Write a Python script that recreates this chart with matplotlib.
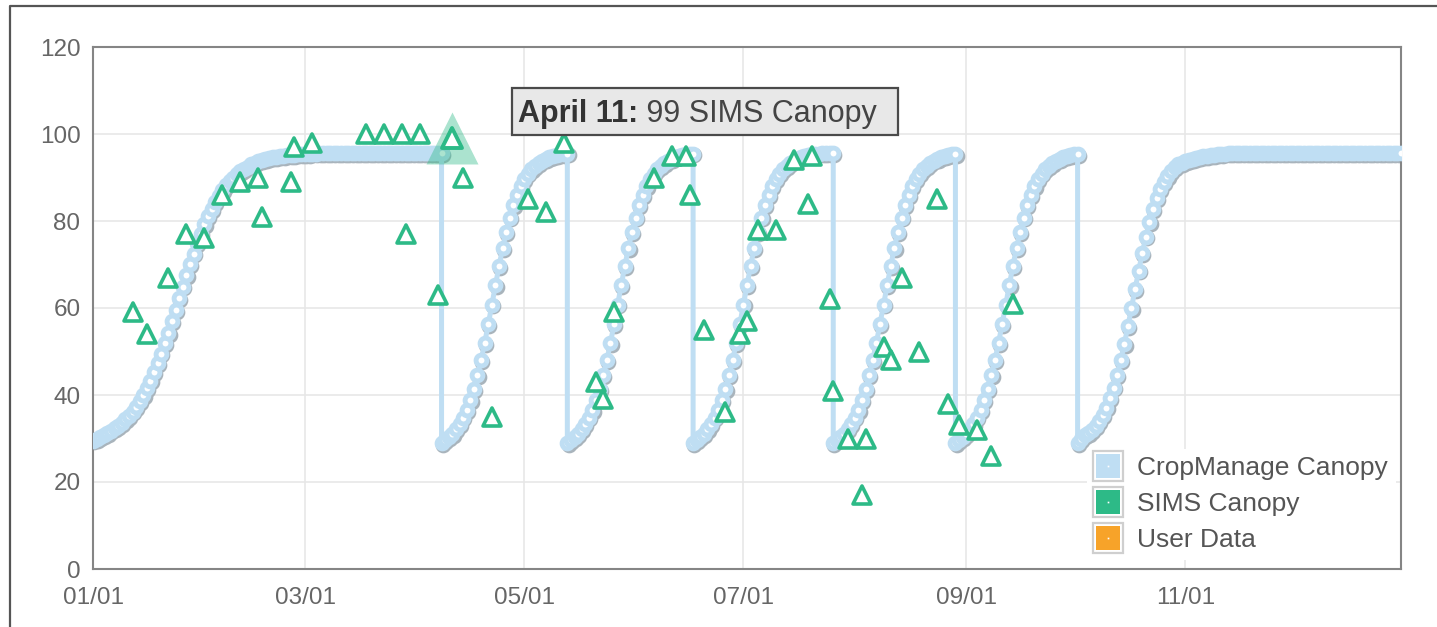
import matplotlib
matplotlib.use('Agg')
import matplotlib.pyplot as plt
import matplotlib.dates as mdates
from matplotlib.lines import Line2D
from matplotlib.markers import MarkerStyle
from matplotlib.patches import Rectangle
from matplotlib.transforms import offset_copy
import pandas as pd

plt.rcParams['font.family'] = ['Liberation Sans', 'DejaVu Sans']

YEAR = '2019'

# CropManage canopy (% cover), one daily growth curve per planting
cycle_dates = ['01-01', '04-08', '05-13', '06-17', '07-26', '08-29', '10-02', '12-31']

first_cycle = [29.5, 29.9, 30.3, 30.8, 31.3, 31.8, 32.4, 32.9, 33.6, 34.4,
               35.2, 36.2, 37.3, 38.6, 40.0, 41.6, 43.3, 45.2, 47.3, 49.5,
               51.9, 54.3, 56.9, 59.5, 62.2, 64.9, 67.5, 70.1, 72.5, 74.9,
               77.1, 79.2, 81.1, 82.8, 84.4, 85.8, 87.1, 88.2, 89.2, 90.0,
               90.8, 91.5, 92.0, 92.5, 93.0, 93.4, 93.7, 94.0, 94.2, 94.4,
               94.6, 94.7, 94.9, 95.0, 95.1, 95.2, 95.2, 95.3, 95.3, 95.4,
               95.4, 95.5, 95.5] + [95.6] * 35

short_cycle = [29.0, 29.6, 30.3, 31.1, 32.1, 33.3, 34.8, 36.6, 38.8, 41.4,
               44.5, 48.0, 52.0, 56.3, 60.8, 65.3, 69.7, 73.8, 77.5, 80.8,
               83.6, 86.0, 88.0, 89.6, 90.9, 91.9, 92.7, 93.4, 93.9, 94.3,
               94.6, 94.9, 95.1, 95.3, 95.4, 95.5, 95.6, 95.6, 95.6, 95.6]

last_cycle = [29.0, 29.8, 30.7, 31.3, 32.0, 32.9, 34.0, 35.4, 37.1, 39.2,
              41.7, 44.6, 48.0, 51.7, 55.8, 60.0, 64.4, 68.6, 72.7, 76.4,
              79.8, 82.7, 85.2, 87.3, 89.0, 90.4, 91.5, 92.4, 93.0, 93.4,
              93.7, 94.0, 94.3, 94.5, 94.7, 94.9, 95.0, 95.1, 95.2, 95.3,
              95.4, 95.5] + [95.6] * 49

cycle_curves = [first_cycle, short_cycle, short_cycle, short_cycle,
                short_cycle, short_cycle, last_cycle]

# SIMS canopy observations
sims_dates = ['01-12', '01-16', '01-22', '01-27', '02-01', '02-06', '02-11', '02-16',
              '02-17', '02-25', '02-26', '03-03', '03-18', '03-23', '03-28', '04-02',
              '03-29', '04-07', '04-11', '04-14', '04-22', '05-02', '05-07', '05-12',
              '05-21', '05-23', '05-26', '06-06', '06-11', '06-15', '06-16', '06-20',
              '06-26', '06-30', '07-02', '07-05', '07-10', '07-15', '07-20', '07-19',
              '07-25', '07-26', '07-30', '08-04', '08-03', '08-09', '08-11', '08-14',
              '08-19', '08-24', '08-27', '08-30', '09-04', '09-08', '09-14']
sims_values = [59, 54, 67, 77, 76, 86, 89, 90,
               81, 89, 97, 98, 100, 100, 100, 100,
               77, 63, 99, 90, 35, 85, 82, 98,
               43, 39, 59, 90, 95, 95, 86, 55,
               36, 54, 57, 78, 78, 94, 95, 84,
               62, 41, 30, 30, 17, 51, 48, 67,
               50, 85, 38, 33, 32, 26, 61]

hover_date = '04-11'
hover_value = 99
tooltip_bold = 'April 11:'
tooltip_rest = ' 99 SIMS Canopy'

series_names = ['CropManage Canopy', 'SIMS Canopy', 'User Data']
blue = '#bfdef3'
green = '#2dba87'
orange = '#f7a329'

cm_x, cm_y = [], []
for start, end, curve in zip(cycle_dates[:-1], cycle_dates[1:], cycle_curves):
    days = pd.date_range(f'{YEAR}-{start}', f'{YEAR}-{end}')
    cm_x.extend(days)
    cm_y.extend(curve[:len(days)])

sims_x = pd.to_datetime([f'{YEAR}-{d}' for d in sims_dates])

fig = plt.figure(figsize=(14.37, 6.27), dpi=100)
ax = fig.add_axes([93 / 1437, 58 / 627, 1308 / 1437, 522 / 627])

# outer page frame
fig.add_artist(Line2D([10 / 1437, 10 / 1437, 1], [0, 1 - 6 / 627, 1 - 6 / 627],
                      transform=fig.transFigure, color='#555555', lw=1.6))

# canopy line + markers with a soft shadow
shadow = offset_copy(ax.transData, fig=fig, x=1.2, y=-1.8, units='dots')
ax.plot(cm_x, cm_y, ls='none', marker='o', ms=7.8, mfc='#a9b4bc', mec='#a9b4bc',
        mew=3.5, transform=shadow, zorder=2)
ax.plot(cm_x, cm_y, color=blue, lw=3.6, zorder=3, solid_joinstyle='round')
ax.plot(cm_x, cm_y, ls='none', marker='o', ms=7.8, mfc='white', mec=blue,
        mew=3.5, zorder=3)

tri = MarkerStyle('^', joinstyle='round')
ax.plot(sims_x, sims_values, ls='none', marker=tri, ms=13.5, mfc='white', mec=green,
        mew=2.6, zorder=5)

# hovered point
hx = pd.Timestamp(f'{YEAR}-{hover_date}')
ax.plot([hx], [hover_value], ls='none', marker=tri, ms=38, mfc=green, mec='none',
        alpha=0.4, zorder=4)
ax.plot([hx], [hover_value], ls='none', marker=tri, ms=14.5, mfc='white', mec=green,
        mew=2.8, zorder=6)

ax.set_xlim(pd.Timestamp(f'{YEAR}-01-01'), pd.Timestamp(f'{YEAR}-12-31'))
ax.set_ylim(0, 120)
ax.set_yticks(range(0, 121, 20))
ax.set_xticks([pd.Timestamp(f'{YEAR}-{m:02d}-01') for m in (1, 3, 5, 7, 9, 11)])
ax.xaxis.set_major_formatter(mdates.DateFormatter('%m/%d'))
ax.tick_params(length=0, labelsize=17.5, colors='#666666')
ax.tick_params(axis='x', pad=13)
ax.tick_params(axis='y', pad=9)
ax.grid(True, color='#e6e6e6', lw=1.1)
ax.set_axisbelow(True)
for s in ax.spines.values():
    s.set_color('#858585')
    s.set_linewidth(1.5)

# legend
def legend_handle(color):
    box = Line2D([], [], ls='none', marker='s', ms=21, mfc='white', mec='#cfcfcf', mew=1.6)
    fill = Line2D([], [], ls='none', marker='s', ms=17, mfc=color, mec=color, mew=0)
    dot = Line2D([], [], ls='none', marker='s', ms=1.2, mfc='white', mec='white', mew=0)
    return (box, fill, dot)

leg = ax.legend([legend_handle(c) for c in (blue, green, orange)], series_names,
                loc='lower right', bbox_to_anchor=(0.996, 0.017), fontsize=19,
                frameon=True, facecolor='white', edgecolor='none', framealpha=1,
                fancybox=False, handlelength=1.0, handletextpad=0.6,
                labelspacing=0.45, borderpad=0.3, borderaxespad=0,
                labelcolor='#555555')
leg.set_zorder(7)

# tooltip
ax.add_patch(Rectangle((0.3203, 0.8314), 0.2951, 0.0901, transform=ax.transAxes,
                       facecolor='#e8e8e8', edgecolor='#4a4a4a', lw=1.6, zorder=8))
t1 = ax.text(0.3249, 0.8716, tooltip_bold, transform=ax.transAxes, fontsize=22,
             fontweight='bold', color='#333333', va='center', ha='left', zorder=9)
ax.annotate(tooltip_rest, xy=(1, 0), xycoords=t1, va='bottom', ha='left',
            fontsize=22, color='#444444', zorder=9)

fig.savefig('out.png', dpi=100, facecolor='white')
